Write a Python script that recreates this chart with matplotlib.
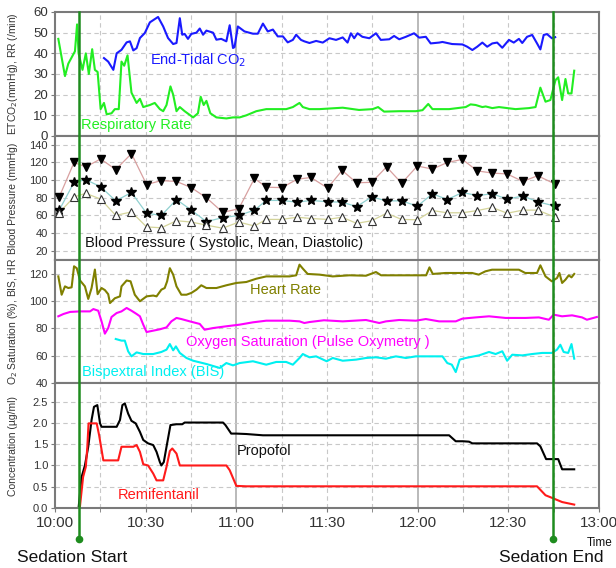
import matplotlib
matplotlib.use("Agg")
import matplotlib.pyplot as plt
from matplotlib.lines import Line2D
from matplotlib.transforms import blended_transform_factory
import numpy as np

plt.rcParams['font.family'] = ['Liberation Sans', 'DejaVu Sans']

# ---------------- data (minutes after 10:00) ----------------
time_labels = ["10:00", "10:30", "11:00", "11:30", "12:00", "12:30", "13:00"]
sedation_start = 7.8
sedation_end = 164.7

rr_t = [1.1, 3.3, 4.4, 5.5, 6.6, 7.3, 7.8, 9.1, 10.2, 11.2, 12.3, 13.2, 14.1, 15.1, 16.2, 17.1, 18.7, 19.8, 21.1, 22.0,
        22.9, 24.0, 25.3, 27.0, 28.1, 29.2, 31.4, 33.0, 34.7, 35.8, 36.9, 38.2, 39.1, 40.2, 41.3, 42.9, 45.7, 47.3, 48.2, 49.2,
        50.1, 51.4, 53.4, 56.7, 58.9, 61.1, 63.3, 66.6, 69.9, 73.2, 76.5, 78.7, 80.9, 82.0, 84.2, 87.5, 95.2, 100.6, 105.1, 106.9,
        108.9, 113.9, 119.4, 121.6, 123.5, 124.9, 127.1, 130.4, 135.9, 137.5, 139.2, 141.4, 142.5, 144.7, 146.9, 152.4, 156.8, 159.0, 160.6, 162.3,
        163.9, 165.6, 166.5, 167.8, 168.9, 169.8, 170.9, 171.8]
rr = [47, 29, 35, 38, 41, 54, 40, 32, 40, 30, 42, 32, 31, 13, 16, 10.5, 11, 13, 13, 36,
      34, 39, 21, 16, 18, 14, 15, 16, 13, 12, 15, 24, 20, 12, 14, 12, 9, 11, 19, 15,
      17, 11, 9, 8.5, 9, 9, 10, 12, 13, 13, 13, 14, 16, 14, 13, 13, 13.7, 12.6, 13, 14,
      11.8, 12, 12, 12.5, 15.5, 13, 13, 13, 14, 15.3, 15, 14, 14.3, 13.5, 14, 13, 13.5, 14, 23.4, 16.6,
      17.4, 27, 28.4, 17.4, 27.6, 20.6, 20.6, 31.6]

et_t = [16.2, 17.6, 19.3, 20.4, 22.0, 23.7, 24.8, 25.9, 27.0, 28.1, 29.7, 31.4, 34.1, 35.8, 37.4, 39.1, 40.2, 41.3, 42.1, 42.9,
        44.0, 45.1, 46.8, 47.9, 49.0, 50.1, 52.3, 53.4, 55.0, 56.7, 57.8, 58.9, 59.4, 60.5, 62.7, 65.5, 67.1, 68.8, 70.4, 72.1,
        73.7, 75.4, 77.0, 78.7, 79.8, 81.4, 82.5, 84.2, 86.4, 88.6, 90.8, 93.0, 95.2, 96.8, 97.9, 99.0, 100.1, 101.7, 104.0, 106.2,
        107.8, 110.6, 112.2, 113.9, 116.1, 118.8, 120.5, 122.7, 124.3, 127.1, 128.2, 131.4, 134.8, 136.4, 138.1, 139.7, 141.4, 143.0, 144.7, 146.3,
        148.0, 150.2, 151.8, 153.5, 154.6, 156.2, 157.9, 159.5, 160.6, 161.7, 162.8, 164.4, 165.5]
etco2 = [37.7, 36, 32, 40, 41.7, 45.3, 45.8, 41.4, 42.5, 47.4, 49.8, 55, 57.6, 53, 47.4, 44.5, 45, 57, 49, 49.4,
         47, 49.4, 50, 52, 49, 51, 50, 46.6, 47, 45.8, 53.6, 42.6, 43, 53, 50.6, 49.5, 49.5, 54.4, 50.6, 51.5,
         48.2, 48.2, 45.3, 46.5, 49, 46.5, 45.8, 45, 46, 45.2, 47.3, 46.5, 47.7, 45.2, 49.7, 47.3, 49.7, 48, 47.3, 49.7,
         46.5, 46.8, 48.4, 46.8, 48, 49.7, 47.6, 48, 44.8, 45.2, 45.5, 44.5, 44.3, 43.2, 41.6, 43.2, 45.2, 43.2, 44.8, 45.2,
         42.7, 46.5, 45.2, 47, 45, 48, 48.9, 44.8, 41.9, 48.9, 49.3, 47.3, 47.8]

bp_t = [1.4, 6.3, 10.2, 15.1, 20.1, 25.3, 30.3, 35.2, 40.2, 45.1, 50.1, 55.5, 60.8, 66.0, 69.9, 75.1, 80.1, 84.7, 90.2, 95.0,
        99.8, 104.8, 109.7, 114.7, 119.9, 124.9, 129.8, 134.8, 139.7, 144.7, 149.6, 154.8, 159.7, 165.5]
systolic = [81, 120, 115, 124, 112, 130, 95, 99.5, 98.5, 91.5, 80, 63.5, 67.5, 102, 92, 91.5, 101, 103, 91, 111,
            97, 97.5, 115, 96.5, 116, 112.5, 120, 123.5, 110.5, 108, 107, 98.5, 105, 95.5]
mean_bp = [66, 97.5, 100.5, 92.5, 76.5, 86, 62.5, 60, 78, 66, 53, 57.5, 60, 66, 77, 77, 75, 77, 75.5, 75,
           70, 81, 76.5, 76.5, 70.5, 84.5, 78, 86, 82.5, 84.5, 78.5, 82, 75.5, 70.5]
diastolic = [63, 81, 85, 78.5, 60, 64, 47, 46, 54, 52.5, 49, 45.5, 52.5, 48, 55.5, 55.5, 58, 56.5, 55.5, 58,
             51, 54, 62.5, 55.5, 55, 65.5, 63, 63, 65.5, 69, 62.5, 66, 66, 58]

hr_t = [1.1, 2.2, 3.3, 4.4, 5.5, 6.3, 7.2, 8.3, 9.9, 11.0, 12.1, 13.2, 14.1, 15.4, 16.5, 17.6, 18.2, 19.8, 21.5, 22.0,
        23.7, 25.0, 26.4, 28.1, 30.3, 32.5, 33.6, 35.2, 36.3, 37.1, 38.0, 39.1, 40.2, 41.8, 43.5, 45.1, 46.8, 48.4, 50.1, 53.4,
        56.7, 60.0, 63.3, 66.6, 69.9, 73.2, 77.6, 79.8, 80.9, 82.0, 83.6, 87.5, 91.9, 97.4, 102.9, 106.2, 107.9, 111.8, 119.5, 122.8,
        123.9, 125.0, 129.3, 133.2, 138.0, 140.2, 142.4, 144.6, 149.0, 153.5, 155.6, 159.5, 160.6, 162.3, 164.4, 166.1, 166.9, 167.8, 168.9, 170.0,
        170.9, 171.8]
hr = [118, 104.6, 110.7, 109.5, 110, 125.4, 124, 115, 110.7, 101.5, 109.5, 123, 105, 109.5, 108, 105, 98.5, 102, 103.4, 110.7,
      115, 114.4, 104.6, 99.8, 103.4, 104, 103.4, 108.3, 109.5, 114.4, 124, 119.3, 110.7, 104.6, 104.6, 105.9, 108.3, 111.5, 109.5, 109.5,
      111.5, 113.2, 113.9, 116.3, 118, 118, 118, 118.8, 126.6, 123.7, 119.8, 119.3, 118, 118.8, 118.5, 121.2, 118.8, 118.8, 118.8, 118.8,
      124.6, 119.8, 120.5, 120.5, 120.5, 119.3, 121.7, 122.9, 122.9, 122.9, 120.5, 120.5, 126.1, 118, 114.4, 116.8, 120.5, 113.2, 115.6, 118.8,
      117.3, 119.8]

sp_t = [1.1, 2.8, 5.0, 8.3, 11.6, 12.7, 14.3, 15.4, 16.5, 17.6, 18.7, 20.4, 22.0, 23.7, 25.3, 27.0, 28.1, 29.2, 30.3, 32.5,
        34.7, 36.9, 38.5, 40.2, 41.8, 44.6, 47.9, 49.5, 52.3, 56.7, 61.1, 65.5, 69.9, 74.3, 77.6, 80.9, 82.5, 84.2, 89.0, 95.2,
        102.9, 107.3, 109.5, 113.9, 119.4, 122.7, 127.1, 132.6, 134.8, 139.2, 143.6, 149.1, 155.7, 160.1, 163.4, 165.0, 167.8, 171.1, 174.4, 176.0,
        179.3]
spo2 = [88.8, 90.5, 92, 92.4, 92.4, 94.1, 92.9, 85.1, 76.1, 80.2, 88.3, 91.2, 92.4, 94.9, 92.9, 90.5, 88.8, 82.7, 77.3, 78.3,
        79.3, 80.7, 85.1, 87.6, 86.8, 85.1, 83.2, 79, 80.2, 81.5, 82.7, 84.4, 85.6, 85.6, 85.6, 85.1, 83.9, 84.6, 85.9, 85.1,
        86.1, 83.9, 85.1, 86.1, 85.6, 86.8, 85.1, 85.1, 87.1, 88, 88.8, 87.6, 87.6, 88, 86.3, 90, 88.8, 89.5, 88, 86.3,
        88.3]

bis_t = [20.1, 22.0, 23.1, 24.2, 25.3, 27.0, 29.2, 32.5, 35.2, 36.9, 38.0, 39.1, 40.0, 41.3, 43.5, 45.7, 50.1, 54.5, 56.7, 58.9,
         61.1, 65.5, 69.9, 73.2, 76.5, 78.7, 80.9, 82.0, 84.2, 86.4, 89.9, 91.9, 95.2, 99.6, 102.9, 106.2, 109.5, 112.8, 116.1, 119.4,
         122.7, 128.2, 129.8, 131.3, 132.6, 133.9, 135.9, 140.3, 143.6, 145.8, 148.0, 149.6, 151.3, 154.6, 157.9, 161.2, 164.4, 166.1, 167.2, 168.3,
         169.8, 170.9, 171.8]
bis = [72.2, 71, 71, 63.2, 59.5, 62.4, 61.2, 61.2, 62.7, 64.4, 68.5, 63.9, 66.8, 62, 58.3, 56.3, 53.9, 51, 54.6, 52.9,
       54.6, 55.9, 53.4, 55.4, 55.4, 53.4, 58.3, 61.2, 58.8, 59.5, 55.9, 58.3, 56.3, 57.1, 58.3, 58.8, 57.8, 59.5, 58.3, 59.5,
       59.5, 59.5, 54.6, 53.4, 48, 57.1, 58.3, 60.2, 62.7, 61.2, 63.2, 56.3, 60.7, 60.2, 61.2, 62, 62, 64.4, 68, 62.7,
       62, 68.5, 57.8]

pr_t = [7.8, 8.8, 9.9, 11.0, 12.1, 12.9, 14.0, 14.9, 15.4, 20.4, 21.5, 22.3, 23.1, 24.2, 25.3, 26.7, 28.1, 29.2, 30.8, 32.5,
        33.6, 34.7, 35.2, 36.0, 36.9, 38.2, 40.2, 42.1, 42.9, 55.6, 56.4, 58.3, 60.0, 63.3, 68.8, 130.4, 132.6, 135.0, 137.0, 138.1,
        159.5, 160.6, 162.5, 166.5, 167.8, 171.8]
propofol = [0, 0.73, 1.0, 1.44, 2.07, 2.38, 2.42, 1.99, 1.91, 1.91, 2.07, 2.42, 2.46, 2.22, 2.05, 1.99, 1.79, 1.6, 1.52, 1.48,
            1.32, 1.08, 1.0, 1.08, 1.44, 1.95, 1.97, 1.97, 2.01, 2.01, 1.95, 1.75, 1.75, 1.74, 1.71, 1.71, 1.57, 1.57, 1.56, 1.52,
            1.52, 1.45, 1.15, 1.15, 0.91, 0.91]

rm_t = [8.2, 9.3, 10.2, 10.7, 11.1, 13.8, 14.6, 16.0, 20.9, 22.0, 25.9, 27.0, 28.1, 29.2, 30.8, 32.5, 33.6, 35.8, 36.9, 38.0,
        38.8, 40.2, 41.3, 56.7, 57.8, 60.0, 63.3, 159.5, 162.3, 164.4, 167.8, 171.8]
remifentanil = [0, 0.73, 0.97, 1.44, 1.99, 1.99, 1.71, 1.12, 1.12, 1.44, 1.44, 1.48, 1.32, 1.03, 1.0, 0.81, 0.65, 0.65, 0.97, 1.34,
                1.4, 1.28, 1.0, 1.0, 0.89, 0.52, 0.51, 0.51, 0.3, 0.24, 0.14, 0.08]

# ---------------- figure ----------------
W, H = 616, 568
fig = plt.figure(figsize=(W / 100, H / 100), dpi=100)

left_px, right_px = 55, 599
bounds_px = [12, 136, 260, 383, 508]

axes = []
for i in range(4):
    top, bot = bounds_px[i], bounds_px[i + 1]
    ax = fig.add_axes([left_px / W, 1 - bot / H, (right_px - left_px) / W, (bot - top) / H])
    axes.append(ax)

ax1, ax2, ax3, ax4 = axes
grid_c = '#c8c8c8'
spine_c = '#7a7a7a'
tick_c = '#333333'

for ax in axes:
    ax.set_xlim(0, 180)
    for s in ax.spines.values():
        s.set_color(spine_c)
        s.set_linewidth(1.5)
    ax.tick_params(axis='y', direction='out', length=3, color=spine_c,
                   labelsize=(9.5 if ax is ax1 else 8), labelcolor=tick_c, pad=2)
    ax.set_xticks(np.arange(0, 181, 30))
    ax.set_xticks(np.arange(15, 181, 30), minor=True)
    # vertical grid
    for m in range(15, 180, 15):
        if m % 60 == 0:
            ax.axvline(m, color='#b4b4b4', lw=1.3, zorder=0)
        else:
            ax.axvline(m, color=grid_c, lw=0.8, ls=(0, (4, 3)), zorder=0)
    if ax is not ax4:
        ax.tick_params(axis='x', which='both', bottom=False, labelbottom=False)

ax4.tick_params(axis='x', which='both', direction='out', length=3, color=spine_c,
                labelsize=11, labelcolor=tick_c, pad=3)
ax4.set_xticklabels(time_labels)


def hgrid(ax, vals):
    for v in vals:
        ax.axhline(v, color=grid_c, lw=0.8, ls=(0, (4, 3)), zorder=0)


# Panel 1
ax1.set_ylim(0, 60)
ax1.set_yticks(range(0, 61, 10))
hgrid(ax1, range(10, 60, 10))
ax1.plot(et_t, etco2, color='#1a1aff', lw=1.5)
ax1.plot(rr_t, rr, color='#22ee22', lw=1.5)
ax1.text(31.4, 36.8, 'End-Tidal CO$_2$', color='#1a1aff', fontsize=10.5, va='center', ha='left')
ax1.text(8.6, 5.3, 'Respiratory Rate', color='#22ee22', fontsize=10.5, va='center', ha='left')

# Panel 2
ax2.set_ylim(9.5, 150)
ax2.set_yticks(range(20, 141, 20))
hgrid(ax2, range(20, 141, 20))
ax2.plot(bp_t, systolic, color='#d8a0a0', lw=0.9, zorder=2)
ax2.plot(bp_t, mean_bp, color='#90d0d0', lw=0.9, zorder=2)
ax2.plot(bp_t, diastolic, color='#d4d49a', lw=0.9, zorder=2)
ax2.plot(bp_t, systolic, ls='none', marker='v', ms=6, color='black', zorder=3)
ax2.plot(bp_t, mean_bp, ls='none', marker='*', ms=7, color='black', zorder=3)
ax2.plot(bp_t, diastolic, ls='none', marker='^', ms=6, mfc='white', mec='#333333', mew=0.8, zorder=3)
ax2.text(9.9, 28.8, 'Blood Pressure ( Systolic, Mean, Diastolic)', color='#111111', fontsize=10.5,
         va='center', ha='left')

# Panel 3
ax3.set_ylim(40, 130)
ax3.set_yticks(range(40, 121, 20))
hgrid(ax3, range(60, 121, 20))
ax3.plot(hr_t, hr, color='#808000', lw=1.5)
ax3.plot(sp_t, spo2, color='#ff00ff', lw=1.5)
ax3.plot(bis_t, bis, color='#00f0f0', lw=1.5)
ax3.text(64.4, 108.3, 'Heart Rate', color='#808000', fontsize=10.5, va='center', ha='left')
ax3.text(43.2, 70.1, 'Oxygen Saturation (Pulse Oxymetry )', color='#ff00ff', fontsize=10.5, va='center', ha='left')
ax3.text(8.9, 48.1, 'Bispextral Index (BIS)', color='#00f0f0', fontsize=10.5, va='center', ha='left')

# Panel 4
ax4.set_ylim(0, 2.94)
ax4.set_yticks(np.arange(0, 2.51, 0.5))
ax4.set_yticklabels([f'{v:.1f}' for v in np.arange(0, 2.51, 0.5)])
hgrid(ax4, np.arange(0.5, 2.9, 0.5))
ax4.plot(pr_t, propofol, color='black', lw=1.5)
ax4.plot(rm_t, remifentanil, color='#ff1a1a', lw=1.5)
ax4.text(60.1, 1.34, 'Propofol', color='#111111', fontsize=10.5, va='center', ha='left')
ax4.text(20.8, 0.31, 'Remifentanil', color='#ff1a1a', fontsize=10.5, va='center', ha='left')

# y labels
ylabels = ['ETCO$_2$(mmHg), RR (/min)', 'Blood Pressure (mmHg)',
           'O$_2$ Saturation (%), BIS, HR', 'Concentration (µg/ml)']
for i, lab in enumerate(ylabels):
    yc = (bounds_px[i] + bounds_px[i + 1]) / 2
    fig.text(13 / W, 1 - yc / H, lab, rotation=90, ha='center', va='center', fontsize=7.5, color='#333333')

# sedation lines
trans = blended_transform_factory(ax4.transData, fig.transFigure)
for t in (sedation_start, sedation_end):
    ln = Line2D([t, t], [1 - 12 / H, 1 - 539 / H], transform=trans, color='#1e8c1e', lw=1.8, clip_on=False)
    fig.add_artist(ln)
    dot = Line2D([t], [1 - 539 / H], transform=trans, color='#1e8c1e', marker='o', ms=4.5, clip_on=False)
    fig.add_artist(dot)

fig.text(72 / W, 1 - 557 / H, 'Sedation Start', ha='center', va='center', fontsize=12.5, color='#111111')
fig.text(551 / W, 1 - 557 / H, 'Sedation End', ha='center', va='center', fontsize=12.5, color='#111111')
fig.text(587 / W, 1 - 543 / H, 'Time', ha='left', va='center', fontsize=8.5, color='#111111')

fig.savefig('out.png', dpi=100)
